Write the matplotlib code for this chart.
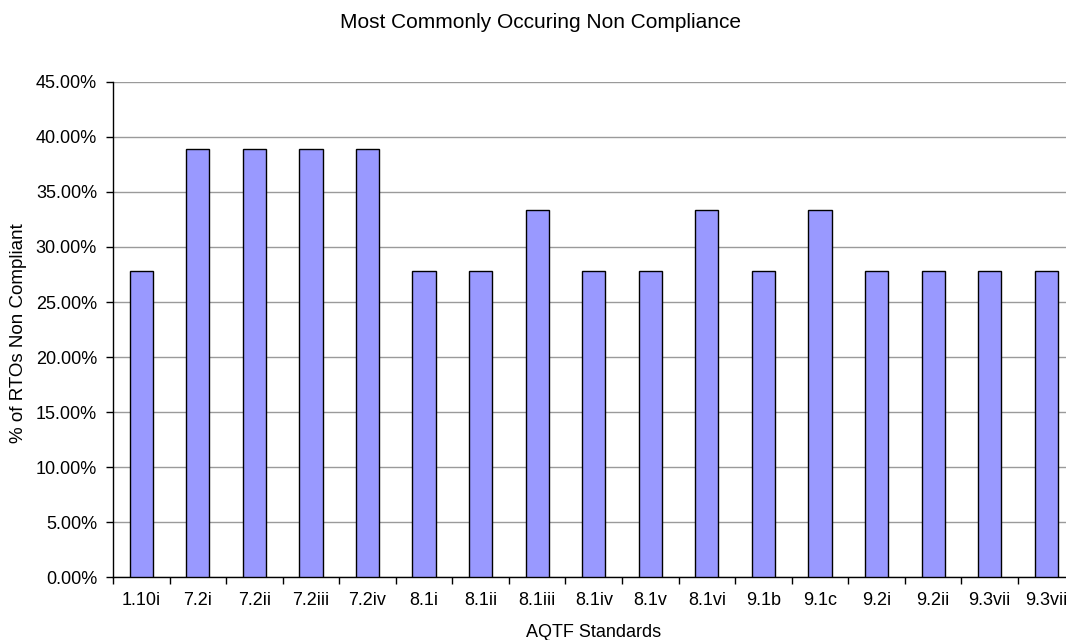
import matplotlib
matplotlib.use("Agg")
import matplotlib.pyplot as plt
import matplotlib.ticker as ticker
import numpy as np

plt.rcParams['font.family'] = ['Liberation Sans', 'DejaVu Sans']

standards = ['1.10i', '7.2i', '7.2ii', '7.2iii', '7.2iv', '8.1i', '8.1ii', '8.1iii',
             '8.1iv', '8.1v', '8.1vi', '9.1b', '9.1c', '9.2i', '9.2ii', '9.3vii', '9.3vii']
pct_non_compliant = [27.78, 38.89, 38.89, 38.89, 38.89, 27.78, 27.78, 33.33,
                     27.78, 27.78, 33.33, 27.78, 33.33, 27.78, 27.78, 27.78, 27.78]

fig = plt.figure(figsize=(10.66, 6.4), dpi=100)
ax = fig.add_axes([0.106, 0.0984, 0.902, 0.7735])

x = np.arange(len(standards))
ax.bar(x, np.array(pct_non_compliant) / 100, width=0.41, color='#9999FF',
       edgecolor='black', linewidth=1.0, zorder=3)

ax.set_xlim(-0.5, len(standards) - 0.5)
ax.set_ylim(0, 0.45)
ax.yaxis.set_major_locator(ticker.MultipleLocator(0.05))
ax.yaxis.set_major_formatter(ticker.FuncFormatter(lambda v, p: f"{v * 100:.2f}%"))
ax.grid(axis='y', color='#9a9a9a', linewidth=1.0, zorder=0)

# category labels centred, tick marks on the boundaries
ax.set_xticks(x)
ax.set_xticklabels(standards)
ax.tick_params(axis='x', which='major', length=0, pad=11, labelsize=13)
ax.set_xticks(np.arange(len(standards) + 1) - 0.5, minor=True)
ax.tick_params(axis='x', which='minor', length=5, width=1, direction='out')
ax.tick_params(axis='y', length=5, width=1, direction='out', labelsize=13, pad=6.5)

for side in ['top', 'right']:
    ax.spines[side].set_visible(False)
ax.spines['left'].set_linewidth(1.0)
ax.spines['bottom'].set_linewidth(1.0)

ax.set_ylabel('% of RTOs Non Compliant', fontsize=13.5, va='center')
ax.yaxis.set_label_coords(-0.098, 0.493)
ax.set_xlabel('AQTF Standards', fontsize=13, va='center')
ax.xaxis.set_label_coords(0.5, -0.113)
fig.text(0.5066, 0.9656, 'Most Commonly Occuring Non Compliance', ha='center',
         va='center', fontsize=15)

fig.savefig('out.png', dpi=100)
